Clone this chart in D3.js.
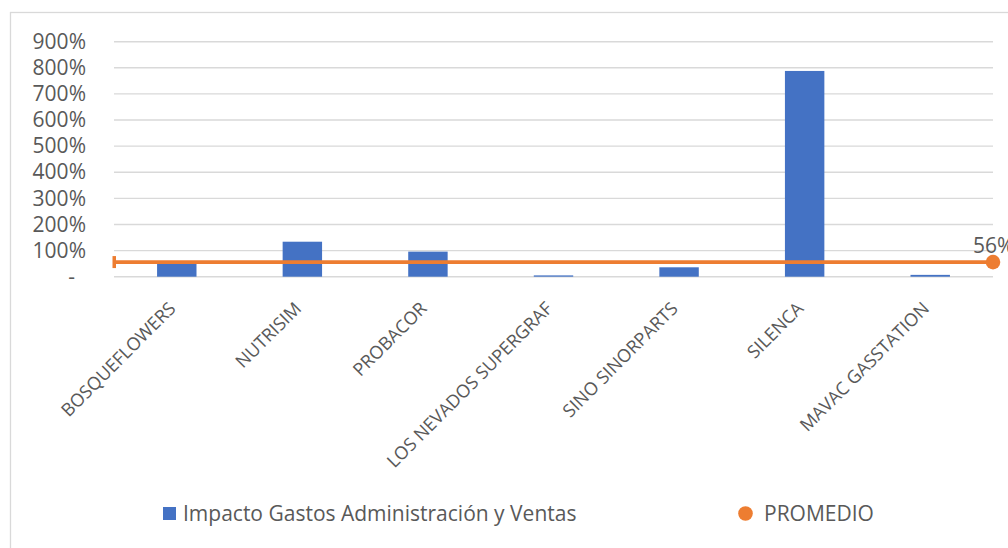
<!DOCTYPE html>
<html>
<head>
<meta charset="utf-8">
<script src="https://cdn.jsdelivr.net/npm/d3@7"></script>
<style>
  html, body { margin: 0; padding: 0; background: #fff; }
  svg text { font-family: "Open Sans", "Noto Sans", sans-serif; fill: #595959; }
</style>
</head>
<body>
<svg id="chart" width="1008" height="548"></svg>
<script>
// ---- data ----
const categories = ["BOSQUEFLOWERS", "NUTRISIM", "PROBACOR", "LOS NEVADOS SUPERGRAF", "SINO SINORPARTS", "SILENCA", "MAVAC GASSTATION"];
const impactoValues = [0.50, 1.34, 0.96, 0.05, 0.36, 7.88, 0.07];
const promedioValue = 0.56;
const promedioLabel = "56%";
const yTickValues = [0, 1, 2, 3, 4, 5, 6, 7, 8, 9];
const yTickLabels = ["-  ", "100%", "200%", "300%", "400%", "500%", "600%", "700%", "800%", "900%"];
const seriesNames = ["Impacto Gastos Administración y Ventas", "PROMEDIO"];

// ---- layout ----
const W = 1008, H = 548;
const plot = { left: 114, right: 993, top: 41.7, bottom: 276.7 };
const blue = "#4472C4", orange = "#ED7D31", grid = "#D9D9D9";
const fontSize = 21;
const catFontSize = 18;

const svg = d3.select("#chart");

// chart area border
svg.append("rect")
  .attr("x", 10.5).attr("y", 12.5)
  .attr("width", W + 20).attr("height", H + 20)
  .attr("fill", "#fff").attr("stroke", grid).attr("stroke-width", 1.3);

const x = d3.scaleBand().domain(categories).range([plot.left, plot.right])
  .paddingInner(0.686).paddingOuter(0.343);
const y = d3.scaleLinear().domain([0, 9]).range([plot.bottom, plot.top]);
const xLine = d3.scaleLinear().domain([0, 1]).range([plot.left, plot.right]);

// gridlines
svg.append("g").selectAll("line").data(yTickValues).join("line")
  .attr("x1", plot.left).attr("x2", plot.right)
  .attr("y1", d => y(d)).attr("y2", d => y(d))
  .attr("stroke", grid).attr("stroke-width", 1.4);

// y axis labels
const yAxis = d3.axisLeft(y).tickValues(yTickValues)
  .tickFormat((d, i) => yTickLabels[i]).tickSize(0).tickPadding(28);
const yg = svg.append("g").attr("transform", `translate(${plot.left},0)`).call(yAxis);
yg.select(".domain").remove();
yg.selectAll("text").attr("font-size", fontSize).attr("fill", "#595959")
  .style("font-family", '"Open Sans", sans-serif').style("white-space", "pre");

// bars
svg.append("g").selectAll("rect").data(impactoValues).join("rect")
  .attr("x", (d, i) => x(categories[i]))
  .attr("width", x.bandwidth())
  .attr("y", d => y(d))
  .attr("height", d => y(0) - y(d))
  .attr("fill", blue);

// category labels (rotated)
const xAxis = d3.axisBottom(x).tickSize(0).tickPadding(0);
const xg = svg.append("g").attr("transform", `translate(0,${plot.bottom})`).call(xAxis);
xg.select(".domain").remove();
xg.selectAll(".tick text")
  .attr("font-size", catFontSize).attr("fill", "#595959")
  .style("font-family", '"Open Sans", sans-serif')
  .attr("text-anchor", "end")
  .attr("dy", 0).attr("y", 0)
  .attr("transform", "translate(0,33) rotate(-45)");

// PROMEDIO line
svg.append("line")
  .attr("x1", xLine(0)).attr("x2", xLine(1))
  .attr("y1", y(promedioValue)).attr("y2", y(promedioValue))
  .attr("stroke", orange).attr("stroke-width", 3.7);
// left clipped marker
svg.append("rect")
  .attr("x", xLine(0) - 1.5).attr("width", 3.5)
  .attr("y", y(promedioValue) - 6).attr("height", 12)
  .attr("fill", orange);
// right marker
svg.append("circle")
  .attr("cx", xLine(1)).attr("cy", y(promedioValue)).attr("r", 7.3)
  .attr("fill", orange);
svg.append("text")
  .attr("x", xLine(1) - 20).attr("y", y(promedioValue) - 9)
  .attr("font-size", fontSize)
  .text(promedioLabel);

// legend
const legY = 513.5;
svg.append("rect").attr("x", 163).attr("y", legY - 6.5).attr("width", 13).attr("height", 13).attr("fill", blue);
svg.append("text").attr("x", 183).attr("y", legY).attr("dy", "0.35em")
  .attr("font-size", fontSize).text(seriesNames[0]);
svg.append("circle").attr("cx", 745.5).attr("cy", legY).attr("r", 7.3).attr("fill", orange);
svg.append("text").attr("x", 764).attr("y", legY).attr("dy", "0.35em")
  .attr("font-size", fontSize).text(seriesNames[1]);
</script>
</body>
</html>
